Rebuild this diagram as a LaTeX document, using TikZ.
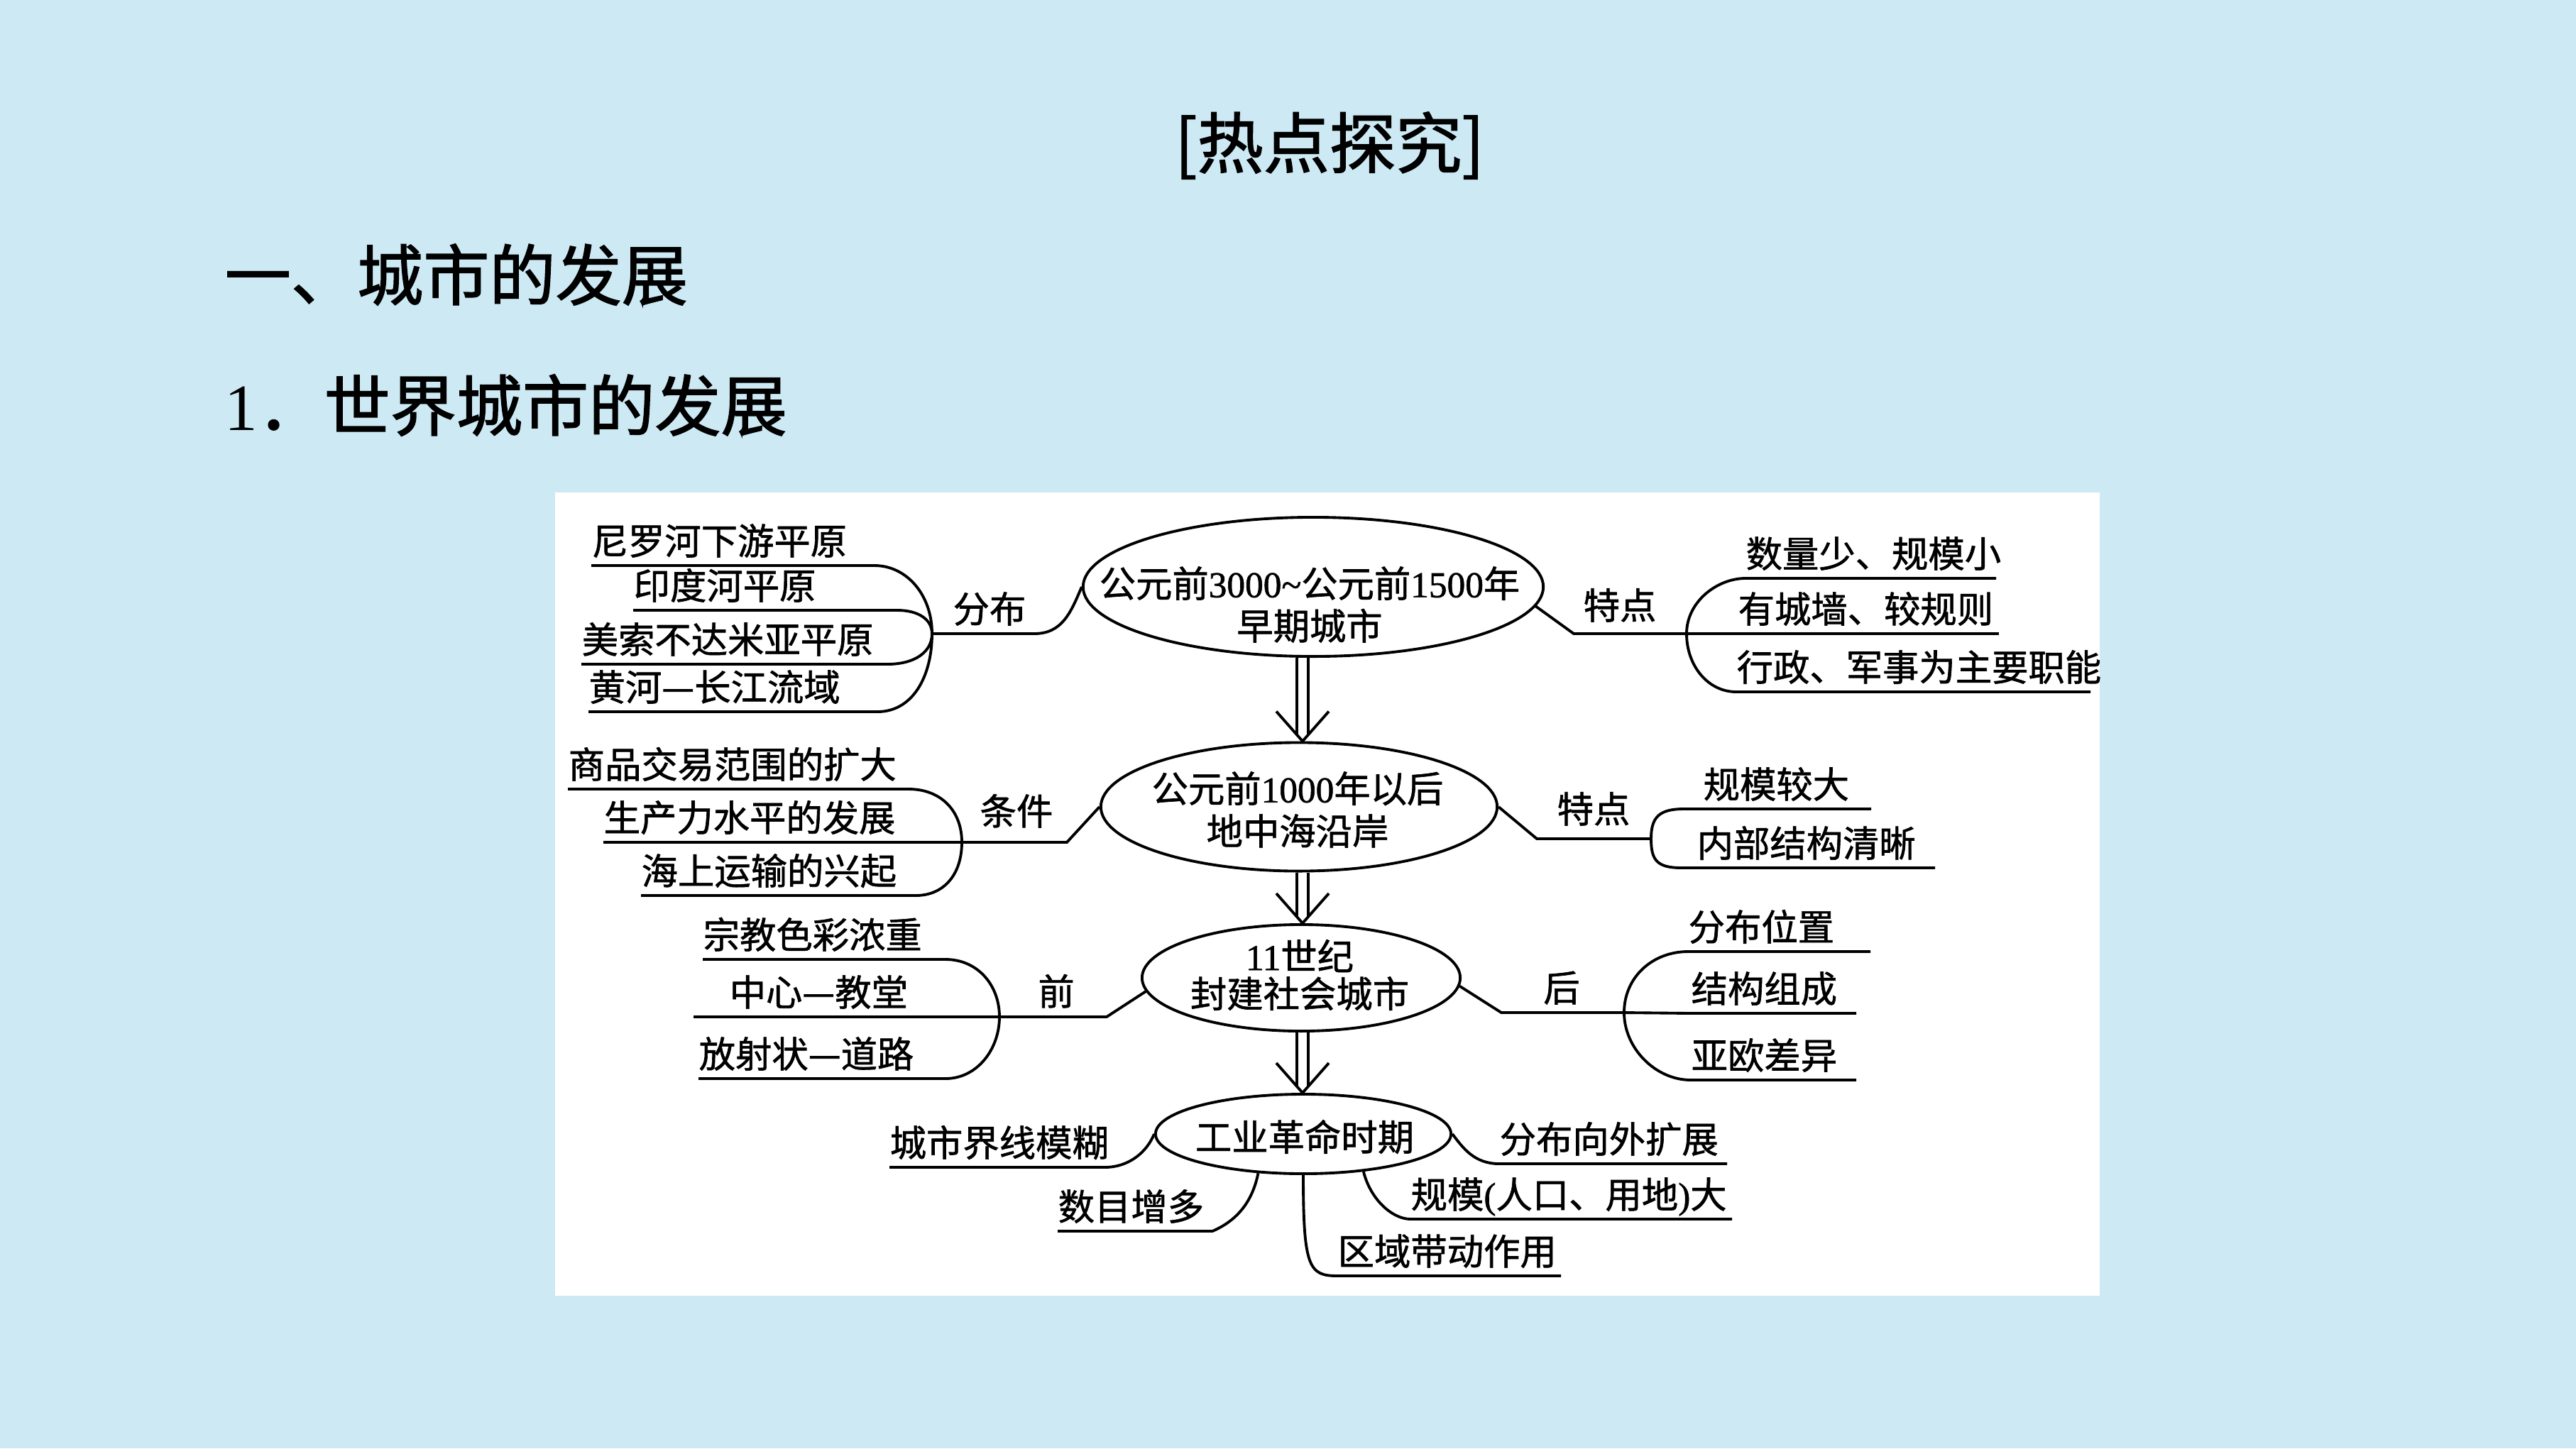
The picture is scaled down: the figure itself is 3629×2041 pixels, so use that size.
\documentclass[tikz,border=0pt]{standalone}
\usepackage{fontspec}
\usetikzlibrary{calc,shapes.geometric}
\newfontfamily\cjk[FakeBold=1.2]{Noto Sans CJK SC}
\newfontfamily\cjkhead[FakeBold=1.6]{Noto Sans CJK SC}
\newfontfamily\lat[FakeBold=1.2]{Liberation Serif}
\newfontfamily\lathead{Liberation Serif}
\definecolor{slideblue}{HTML}{CCE9F4}

\tikzset{
  leaf/.style={font=\cjk\fontsize{14.6}{17}\selectfont, inner xsep=0pt, inner ysep=2.4pt,
    text height=12.8pt, text depth=1.8pt, anchor=south west},
  tag/.style={leaf, anchor=center},
  era/.style={ellipse, draw, line width=1.1pt, inner sep=0pt},
  eratext/.style={font=\cjk\fontsize{14.6}{17}\selectfont, inner sep=0pt, align=center},
  branch/.style={line width=1.1pt},
  flow/.style={line width=1.1pt},
  heading/.style={font=\cjkhead\fontsize{26.5}{30}\selectfont, inner sep=0pt, anchor=west}
}

\begin{document}
\begin{tikzpicture}[x=0.01cm, y=-0.01cm]
    \def\slidecolor{slideblue}
    \def\panelcolor{white}

    % slide and panel
    \fill [\slidecolor] (0,0) rectangle (3629,2041);
    \fill [\panelcolor] (782,694) rectangle (2958,1826);
    \useasboundingbox (0,0) rectangle (3629,2041);

    \node [heading, anchor=center] (title) at (1873,205) {[热点探究]};
    \node [heading] (part) at (316,387) {一、城市的发展};
    \node [heading] (sub) at (316,571) {{\lathead 1}．世界城市的发展};

    % four stages
    \node [era, minimum width=6.48cm, minimum height=1.96cm] (early) at (1850,827) {};
    \node [eratext] (earlytxt) at (1845,852) {公元前{\lat 3000\textasciitilde}公元前{\lat 1500}年\\早期城市};
    \node [era, minimum width=5.58cm, minimum height=1.81cm] (medit) at (1830,1137) {};
    \node [eratext] (medittxt) at (1828,1141) {公元前{\lat 1000}年以后\\地中海沿岸};
    \node [era, minimum width=4.48cm, minimum height=1.50cm] (feudal) at (1833,1378) {};
    \node [eratext] (feudaltxt) at (1831,1374) {{\lat 11}世纪\\[-2pt]封建社会城市};
    \node [era, minimum width=4.16cm, minimum height=1.12cm] (industry) at (1836,1598) {};
    \node [eratext] (industrytxt) at (1838,1602) {工业革命时期};

    \coordinate (spine) at (1835,0);
    \foreach \from/\to in {early/medit, medit/feudal, feudal/industry} {
        \draw [flow] ($(\from.south -| spine)+(-8,0)$) -- ($(\to.north -| spine)+(-8,-10)$);
        \draw [flow] ($(\from.south -| spine)+(8,0)$) -- ($(\to.north -| spine)+(8,-10)$);
        \draw [flow] ($(\to.north -| spine)+(-37,-42)$) -- (\to.north -| spine) -- ($(\to.north -| spine)+(37,-42)$);
    }

    % early cities
    \node [tag] (fenbu) at (1394,858) {分布};
    \coordinate (fenbuJ) at (1313,893);
    \coordinate (fenbuK) at (1457,893);
    \node [leaf] (nile) at (833,797) {尼罗河下游平原};
    \node [leaf] (indusplain) at (892,860) {印度河平原};
    \node [leaf] (meso) at (819,936) {美索不达米亚平原};
    \node [leaf] (yellow) at (829,1003) {黄河—长江流域};
    \draw [branch] (nile.south west) -- ++(399,0) .. controls +(45,0) and +(0,-55) .. (fenbuJ);
    \draw [branch] (indusplain.south west) -- ++(372,0) .. controls +(30,0) and +(0,-20) .. (fenbuJ);
    \draw [branch] (meso.south west) -- ++(431,0) .. controls +(40,0) and +(0,25) .. (fenbuJ);
    \draw [branch] (yellow.south west) -- ++(407,0) .. controls +(50,0) and +(0,60) .. (fenbuJ);
    \draw [branch] (fenbuJ) -- (fenbuK) .. controls +(40,0) and +(-15,35) .. (early.west);

    \node [tag] (tedianA) at (2282,853) {特点};
    \coordinate (tedianAK) at (2217,893);
    \coordinate (tedianAJ) at (2376,893);
    \node [leaf] (qty) at (2459,815) {数量少、规模小};
    \node [leaf] (wall) at (2448,893) {有城墙、较规则};
    \node [leaf] (admin) at (2446,975) {行政、军事为主要职能};
    \draw [branch] (early.-5) -- (tedianAK) -- (tedianAJ);
    \draw [branch] (tedianAJ) .. controls +(0,-45) and +(-40,0) .. (qty.south west) -- ++(353,0);
    \draw [branch] (tedianAJ) -- (wall.south west) -- ++(368,0);
    \draw [branch] (tedianAJ) .. controls +(0,45) and +(-40,0) .. (admin.south west) -- ++(499,0);

    % mediterranean cities
    \node [tag] (tiaojian) at (1432,1143) {条件};
    \coordinate (tiaojianJ) at (1355,1187);
    \coordinate (tiaojianK) at (1503,1187);
    \node [leaf] (trade) at (800,1112) {商品交易范围的扩大};
    \node [leaf] (prod) at (850,1187) {生产力水平的发展};
    \node [leaf] (sea) at (903,1262) {海上运输的兴起};
    \draw [branch] (trade.south west) -- ++(480,0) .. controls +(45,0) and +(0,-45) .. (tiaojianJ);
    \draw [branch] (prod.south west) -- (tiaojianJ) -- (tiaojianK) -- (medit.west);
    \draw [branch] (sea.south west) -- ++(387,0) .. controls +(40,0) and +(0,45) .. (tiaojianJ);

    \node [tag] (tedianB) at (2245,1140) {特点};
    \coordinate (tedianBK) at (2165,1182);
    \coordinate (tedianBJ) at (2326,1182);
    \node [leaf] (sizeb) at (2399,1140) {规模较大};
    \node [leaf] (innerb) at (2390,1223) {内部结构清晰};
    \draw [branch] (medit.east) -- (tedianBK) -- (tedianBJ);
    \draw [branch] (tedianBJ) .. controls +(0,-30) and +(-35,0) .. ($(sizeb.south west)+(-27,0)$) -- ++(264,0);
    \draw [branch] (tedianBJ) .. controls +(0,30) and +(-35,0) .. ($(innerb.south west)+(-21,0)$) -- ++(357,0);

    % feudal cities
    \node [tag] (qian) at (1488,1397) {前};
    \coordinate (qianJ) at (1408,1433);
    \coordinate (qianK) at (1559,1433);
    \node [leaf] (religion) at (990,1352) {宗教色彩浓重};
    \node [leaf] (church) at (1027,1433) {中心—教堂};
    \node [leaf] (radial) at (984,1520) {放射状—道路};
    \draw [branch] (religion.south west) -- ++(342,0) .. controls +(45,0) and +(0,-45) .. (qianJ);
    \draw [branch] ($(church.south west)+(-50,0)$) -- (qianJ) -- (qianK) -- (feudal.185);
    \draw [branch] (radial.south west) -- ++(348,0) .. controls +(45,0) and +(0,45) .. (qianJ);

    \node [tag] (hou) at (2200,1392) {后};
    \coordinate (houK) at (2115,1427);
    \coordinate (houJ) at (2288,1427);
    \node [leaf] (place) at (2378,1341) {分布位置};
    \node [leaf] (struct) at (2382,1428) {结构组成};
    \node [leaf] (asia) at (2382,1522) {亚欧差异};
    \draw [branch] (feudal.-3) -- (houK) -- (houJ);
    \draw [branch] (houJ) .. controls +(0,-50) and +(-50,0) .. (place.south west) -- ++(257,0);
    \draw [branch] (houJ) -- (struct.south west) -- ++(233,0);
    \draw [branch] (houJ) .. controls +(0,50) and +(-50,0) .. (asia.south west) -- ++(233,0);

    % industrial revolution
    \node [leaf] (blur) at (1253,1645) {城市界线模糊};
    \node [leaf] (outward) at (2112,1640) {分布向外扩展};
    \node [leaf] (count) at (1490,1735) {数目增多};
    \node [leaf] (region) at (1884,1798) {区域带动作用};
    \node [leaf] (big) at (1987,1718) {规模{\lat (}人口、用地{\lat )}大};
    \draw [branch] (blur.south west) -- ++(303,0) .. controls +(35,0) and +(-10,25) .. (industry.west);
    \draw [branch] (industry.east) .. controls +(15,20) and +(-35,0) .. (outward.south west) -- ++(321,0);
    \draw [branch] (count.south west) -- ++(218,0) .. controls +(35,-15) and +(-8,40) .. (industry.221);
    \draw [branch] (industry.south) .. controls +(0,130) and +(-40,0) .. (region.south west) -- ++(315,0);
    \draw [branch] (industry.-32) .. controls +(10,40) and +(-25,0) .. (big.south west) -- ++(453,0);
\end{tikzpicture}
\end{document}
